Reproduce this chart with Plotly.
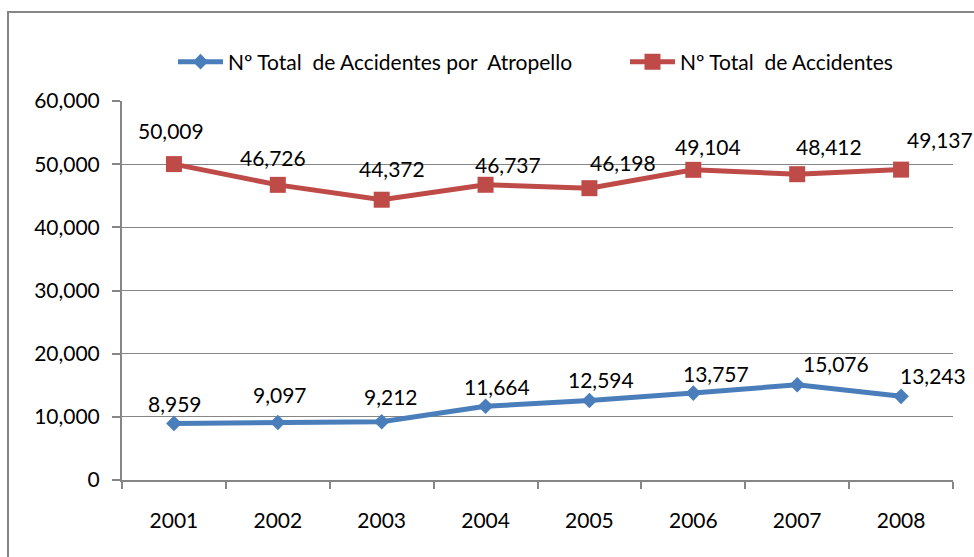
import plotly.graph_objects as go

# datos del gráfico
years = ["2001", "2002", "2003", "2004", "2005", "2006", "2007", "2008"]
atropello = [8959, 9097, 9212, 11664, 12594, 13757, 15076, 13243]
total = [50009, 46726, 44372, 46737, 46198, 49104, 48412, 49137]

name_atropello = "Nº Total  de Accidentes por  Atropello"
name_total = "Nº Total  de Accidentes"

# desplazamiento de las etiquetas (px) respecto al punto
atropello_dx = [1.5, 2, 9, 11.5, 12, 22.5, 38.5, 31.5]
atropello_dy = [20, 28.5, 25, 20, 21, 19.5, 21.5, 20.5]
total_dx = [-2.5, -4.5, 10.5, 22.5, 34, 15, 31.5, 38.5]
total_dy = [34, 27.5, 31, 20, 26, 23, 28, 30.5]

W, H = 974, 557
ML, MR, MT, MB = 122, 21, 101, 77
PW, PH = W - ML - MR, H - MT - MB

FONT = "Lato"
FS = 21
GRID = "#868686"
BLUE = "#4A7EBB"
RED = "#BE4B48"

fig = go.Figure()
fig.add_trace(go.Scatter(
    x=years, y=atropello, name=name_atropello, mode="lines+markers",
    line=dict(color=BLUE, width=5),
    marker=dict(symbol="diamond", size=12, color=BLUE),
    legend="legend",
))
fig.add_trace(go.Scatter(
    x=years, y=total, name=name_total, mode="lines+markers",
    line=dict(color=RED, width=5),
    marker=dict(symbol="square", size=16, color=RED),
    legend="legend2",
))

annotations = []
for vals, dxs, dys in [(atropello, atropello_dx, atropello_dy), (total, total_dx, total_dy)]:
    for i, (v, dx, dy) in enumerate(zip(vals, dxs, dys)):
        annotations.append(dict(
            x=i, y=v, xref="x", yref="y", text=f"{v:,}", showarrow=False,
            xshift=dx, yshift=dy, xanchor="center", yanchor="middle",
            font=dict(family=FONT, size=FS, color="black"),
        ))

# marco exterior del gráfico
border = dict(
    type="rect", xref="paper", yref="paper",
    x0=(8 - ML) / PW, x1=(W + 10 - ML) / PW,
    y0=-(MB + 10) / PH, y1=(H - MB - 12) / PH,
    line=dict(color=GRID, width=2), fillcolor="rgba(0,0,0,0)", layer="below",
)


def legend_at(px):
    return dict(
        orientation="h", x=(px - ML) / PW, xanchor="left",
        y=(H - MB - 62) / PH, yanchor="middle",
        itemwidth=45,
        font=dict(family=FONT, size=FS, color="black"),
        bgcolor="rgba(0,0,0,0)",
    )


fig.update_layout(
    width=W, height=H,
    margin=dict(l=ML, r=MR, t=MT, b=MB),
    paper_bgcolor="white", plot_bgcolor="white",
    font=dict(family=FONT, size=FS, color="black"),
    showlegend=True,
    legend=legend_at(173),
    legend2=legend_at(625),
    xaxis=dict(
        type="category", range=[-0.5, 7.5],
        showline=True, linecolor=GRID, linewidth=2,
        ticks="outside", tickson="boundaries", ticklen=7, tickcolor=GRID, tickwidth=2,
        showgrid=False, ticklabelstandoff=21,
        tickfont=dict(family=FONT, size=FS, color="black"),
    ),
    yaxis=dict(
        range=[0, 60000], dtick=10000, tickformat=",d",
        showline=True, linecolor=GRID, linewidth=2,
        ticks="outside", ticklen=8, tickcolor=GRID, tickwidth=2,
        showgrid=True, gridcolor=GRID, gridwidth=1,
        zeroline=False, ticklabelstandoff=8,
        tickfont=dict(family=FONT, size=FS, color="black"),
    ),
    annotations=annotations,
    shapes=[border],
)

fig.write_html("out.html", config={"displayModeBar": False},
               post_script="document.body.style.margin='0';")
